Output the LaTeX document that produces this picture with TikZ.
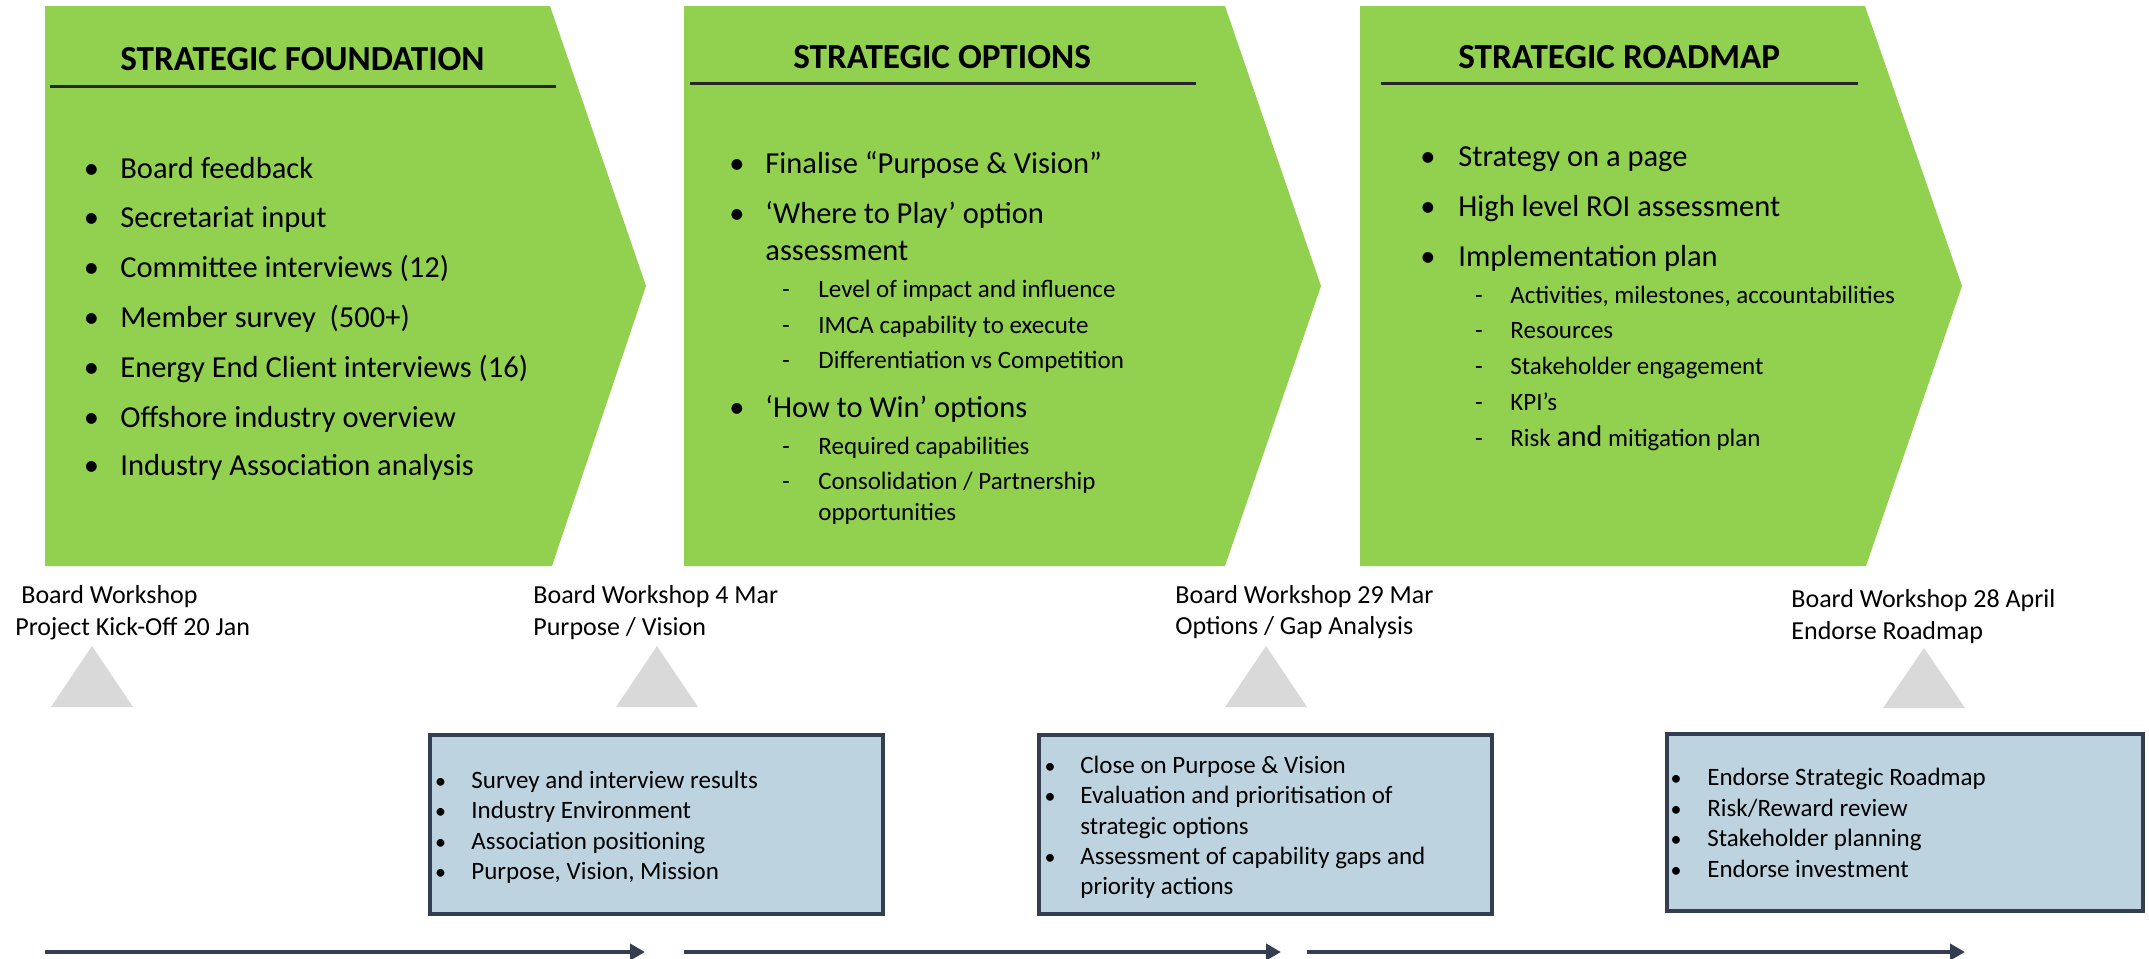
\documentclass[tikz,border=0pt]{standalone}
\usepackage{fontspec}
\setmainfont{Carlito}
\usetikzlibrary{arrows.meta}

\definecolor{chevgreen}{RGB}{146,208,80}
\definecolor{boxblue}{RGB}{189,212,224}
\definecolor{boxdark}{RGB}{51,63,80}
\definecolor{markergray}{RGB}{217,217,217}

\tikzstyle{chevron}=[fill=chevgreen]
\tikzstyle{headtitle}=[anchor=base west,
    inner sep=0pt,
    font=\bfseries\fontsize{17.6pt}{20pt}\selectfont]
\tikzstyle{headline}=[draw=black!85, line width=1.5pt]
\tikzstyle{mainitem}=[anchor=base west,
    inner sep=0pt,
    font=\fontsize{15.25pt}{18pt}\selectfont]
\tikzstyle{mainbul}=[anchor=base,
    inner sep=0pt,
    font=\fontsize{15.25pt}{18pt}\selectfont]
\tikzstyle{subitem}=[anchor=base west,
    inner sep=0pt,
    font=\fontsize{12.5pt}{15pt}\selectfont]
\tikzstyle{subdash}=[anchor=base,
    inner sep=0pt,
    font=\fontsize{12.5pt}{15pt}\selectfont]
\tikzstyle{wslabel}=[anchor=base west,
    inner sep=0pt,
    font=\fontsize{13pt}{16pt}\selectfont]
\tikzstyle{marker}=[fill=markergray]
\tikzstyle{notebox}=[draw=boxdark, line width=2pt, fill=boxblue]
\tikzstyle{boxitem}=[anchor=base west,
    inner sep=0pt,
    font=\fontsize{12.5pt}{15pt}\selectfont]
\tikzstyle{boxbul}=[anchor=base,
    inner sep=0pt,
    font=\fontsize{11pt}{15pt}\selectfont]
\tikzstyle{timeline}=[draw=boxdark,
    line width=2pt,
    -{Triangle[length=7.5pt,width=8pt]}]

\begin{document}
\begin{tikzpicture}[x=0.5pt,y=-0.5pt]
                \useasboundingbox (0,0) rectangle (2149,959);

                \fill[chevron] (45,6) -- (550,6) -- (646,286) -- (552,566) -- (45,566) -- cycle;
                \fill[chevron] (684,6) -- (1225,6) -- (1321,286) -- (1225,566) -- (684,566) -- cycle;
                \fill[chevron] (1360,6) -- (1865,6) -- (1962,286) -- (1866,566) -- (1360,566) -- cycle;

                \node (foundtitle) [headtitle] at (120,70) {STRATEGIC FOUNDATION};
                \draw [headline] (50,86) -- (556,86);
                \node (fb1) [mainbul] at (91.5,178) {•};
                \node (f1) [mainitem] at (120,178) {Board feedback};
                \node (fb2) [mainbul] at (91.5,227) {•};
                \node (f2) [mainitem] at (120,227) {Secretariat input};
                \node (fb3) [mainbul] at (91.5,277) {•};
                \node (f3) [mainitem] at (120,277) {Committee interviews (12)};
                \node (fb4) [mainbul] at (91.5,327) {•};
                \node (f4) [mainitem] at (120,327) {Member survey\ \ (500+)};
                \node (fb5) [mainbul] at (91.5,377) {•};
                \node (f5) [mainitem] at (120,377) {Energy End Client interviews (16)};
                \node (fb6) [mainbul] at (91.5,427) {•};
                \node (f6) [mainitem] at (120,427) {Offshore industry overview};
                \node (fb7) [mainbul] at (91.5,475) {•};
                \node (f7) [mainitem] at (120,475) {Industry Association analysis};

                \node (opttitle) [headtitle] at (793,68) {STRATEGIC OPTIONS};
                \draw [headline] (690,83) -- (1196,83);
                \node (ob1) [mainbul] at (737,173) {•};
                \node (o1) [mainitem] at (765,173) {Finalise “Purpose \& Vision”};
                \node (ob2) [mainbul] at (737,223) {•};
                \node (o2) [mainitem] at (765,223) {‘Where to Play’ option};
                \node (o2b) [mainitem] at (765,260) {assessment};
                \node (od1) [subdash] at (786,297) {-};
                \node (os1) [subitem] at (818,297) {Level of impact and influence};
                \node (od2) [subdash] at (786,333) {-};
                \node (os2) [subitem] at (818,333) {IMCA capability to execute};
                \node (od3) [subdash] at (786,368) {-};
                \node (os3) [subitem] at (818,368) {Differentiation vs Competition};
                \node (ob3) [mainbul] at (737,417) {•};
                \node (o3) [mainitem] at (765,417) {‘How to Win’ options};
                \node (od4) [subdash] at (786,454) {-};
                \node (os4) [subitem] at (818,454) {Required capabilities};
                \node (od5) [subdash] at (786,489) {-};
                \node (os5) [subitem] at (818,489) {Consolidation / Partnership};
                \node (os5b) [subitem] at (818,520) {opportunities};

                \node (roadtitle) [headtitle] at (1458,68) {STRATEGIC ROADMAP};
                \draw [headline] (1381,83) -- (1858,83);
                \node (rb1) [mainbul] at (1428,166) {•};
                \node (r1) [mainitem] at (1458,166) {Strategy on a page};
                \node (rb2) [mainbul] at (1428,216) {•};
                \node (r2) [mainitem] at (1458,216) {High level ROI assessment};
                \node (rb3) [mainbul] at (1428,266) {•};
                \node (r3) [mainitem] at (1458,266) {Implementation plan};
                \node (rd1) [subdash] at (1479,303) {-};
                \node (rs1) [subitem] at (1510,303) {Activities, milestones, accountabilities};
                \node (rd2) [subdash] at (1479,338) {-};
                \node (rs2) [subitem] at (1510,338) {Resources};
                \node (rd3) [subdash] at (1479,374) {-};
                \node (rs3) [subitem] at (1510,374) {Stakeholder engagement};
                \node (rd4) [subdash] at (1479,410) {-};
                \node (rs4) [subitem] at (1510,410) {KPI’s};
                \node (rd5) [subdash] at (1479,446) {-};
                \node (rs5) [subitem] at (1510,446) {Risk {\fontsize{15pt}{15pt}\selectfont and} mitigation plan};

                \node (ws1a) [wslabel] at (21,603) {Board Workshop};
                \node (ws1b) [wslabel] at (15,635) {Project Kick-Off 20 Jan};
                \node (ws2a) [wslabel] at (533,603) {Board Workshop 4 Mar};
                \node (ws2b) [wslabel] at (533,635) {Purpose / Vision};
                \node (ws3a) [wslabel] at (1175,603) {Board Workshop 29 Mar};
                \node (ws3b) [wslabel] at (1175,634) {Options / Gap Analysis};
                \node (ws4a) [wslabel] at (1791,607) {Board Workshop 28 April};
                \node (ws4b) [wslabel] at (1791,639) {Endorse Roadmap};

                \fill [marker] (51,707) -- (92,646) -- (133,707) -- cycle;
                \fill [marker] (616,707) -- (657,646) -- (698,707) -- cycle;
                \fill [marker] (1225,707) -- (1266,646) -- (1307,707) -- cycle;
                \fill [marker] (1883,708) -- (1924,648) -- (1965,708) -- cycle;

                \draw [notebox] (430,735) rectangle (883,914);
                \node (n1b1) [boxbul] at (440.5,788) {•};
                \node (n1i1) [boxitem] at (471,788) {Survey and interview results};
                \node (n1b2) [boxbul] at (440.5,818) {•};
                \node (n1i2) [boxitem] at (471,818) {Industry Environment};
                \node (n1b3) [boxbul] at (440.5,849) {•};
                \node (n1i3) [boxitem] at (471,849) {Association positioning};
                \node (n1b4) [boxbul] at (440.5,879) {•};
                \node (n1i4) [boxitem] at (471,879) {Purpose, Vision, Mission};

                \draw [notebox] (1039,735) rectangle (1492,914);
                \node (n2b1) [boxbul] at (1050,773) {•};
                \node (n2i1) [boxitem] at (1080,773) {Close on Purpose \& Vision};
                \node (n2b2) [boxbul] at (1050,803) {•};
                \node (n2i2) [boxitem] at (1080,803) {Evaluation and prioritisation of};
                \node (n2i2b) [boxitem] at (1080,834) {strategic options};
                \node (n2b3) [boxbul] at (1050,864) {•};
                \node (n2i3) [boxitem] at (1080,864) {Assessment of capability gaps and};
                \node (n2i3b) [boxitem] at (1080,894) {priority actions};

                \draw [notebox] (1667,734) rectangle (2143,911);
                \node (n3b1) [boxbul] at (1676,785) {•};
                \node (n3i1) [boxitem] at (1707,785) {Endorse Strategic Roadmap};
                \node (n3b2) [boxbul] at (1676,816) {•};
                \node (n3i2) [boxitem] at (1707,816) {Risk/Reward review};
                \node (n3b3) [boxbul] at (1676,846) {•};
                \node (n3i3) [boxitem] at (1707,846) {Stakeholder planning};
                \node (n3b4) [boxbul] at (1676,877) {•};
                \node (n3i4) [boxitem] at (1707,877) {Endorse investment};

                \coordinate (t1start) at (45,952);
                \coordinate (t1end) at (645,952);
                \coordinate (t2start) at (684,952);
                \coordinate (t2end) at (1281,952);
                \coordinate (t3start) at (1307,952);
                \coordinate (t3end) at (1965,952);
                \draw [timeline] (t1start) -- (t1end);
                \draw [timeline] (t2start) -- (t2end);
                \draw [timeline] (t3start) -- (t3end);
\end{tikzpicture}
\end{document}
